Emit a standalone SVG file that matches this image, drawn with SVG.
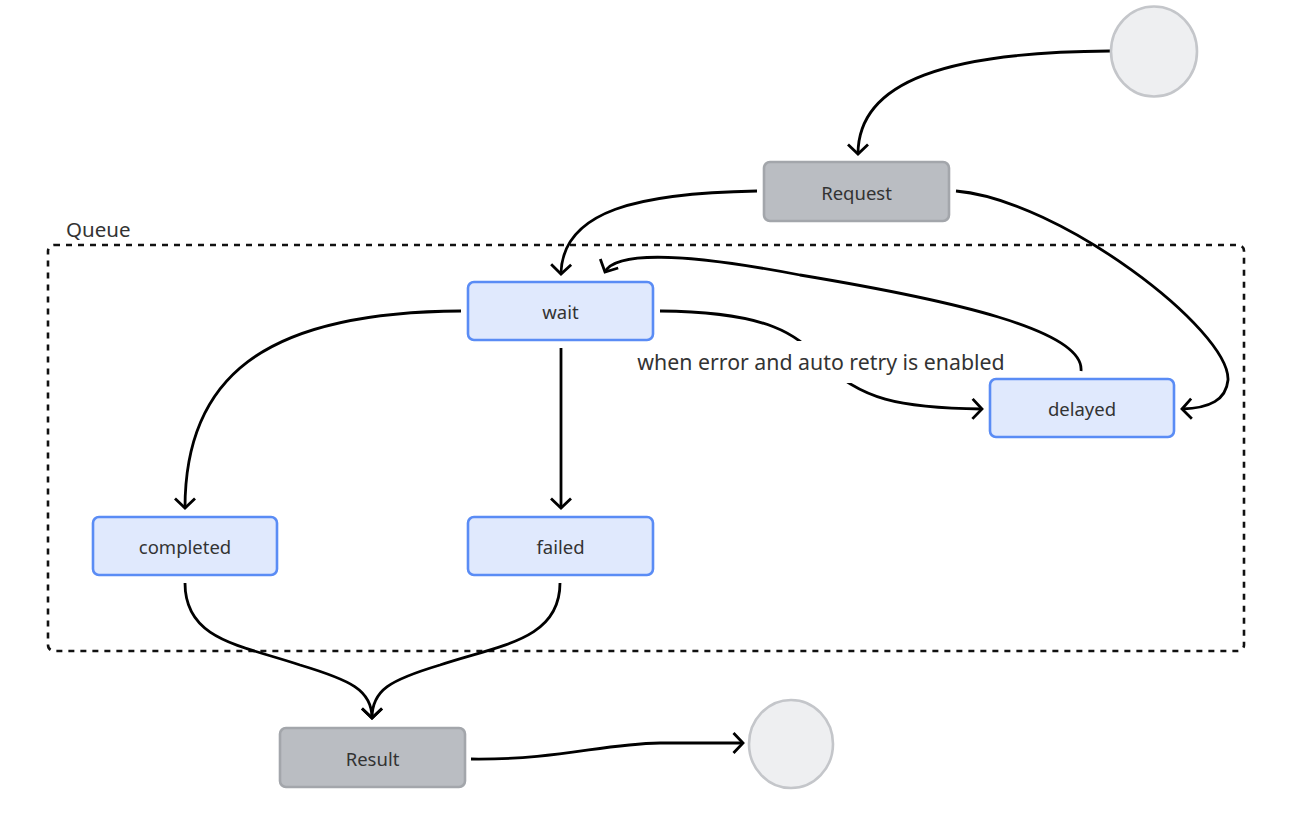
<svg xmlns="http://www.w3.org/2000/svg" width="1316" height="814" viewBox="0 0 1316 814">
<style>
.lbl{font-family:"Noto Sans","Open Sans",sans-serif;font-size:18.5px;fill:#333;text-anchor:middle;dominant-baseline:central}
.blue{fill:#e0e9fd;stroke:#5a8cf5;stroke-width:2.6}
.grey{fill:#babdc2;stroke:#a3a6ab;stroke-width:2.6}
.term{fill:#eeeff1;stroke:#c4c6ca;stroke-width:2.6}
.edge{fill:none;stroke:#000;stroke-width:2.8;marker-end:url(#arr)}
</style>
<defs>
<marker id="arr" markerUnits="userSpaceOnUse" markerWidth="26" markerHeight="26" refX="13" refY="13" orient="auto" viewBox="0 0 26 26">
<path d="M3.5,3 L13,13 L3.5,23" fill="none" stroke="#000" stroke-width="2.8"/>
</marker>
</defs>
<g id="queue">
<rect x="48" y="245" width="1196" height="406" rx="6" fill="none" stroke="#111" stroke-width="2.6" stroke-dasharray="6,6"/>
<text x="66" y="229" font-family="Noto Sans, sans-serif" font-size="20.5" fill="#333" dominant-baseline="central">Queue</text>
</g>
<g id="connectors">
<path class="edge" d="M1110,51 C950,52 858,80 858,154"/>
<path class="edge" d="M757,191 C640,193 562,210 561,274"/>
<path class="edge" d="M956,191 C1060,200 1230,330 1228,380 C1226,400 1210,408 1182,409"/>
<path class="edge" d="M461,311 C260,312 185,380 185,508"/>
<path class="edge" d="M561,348 L561,508"/>
<path class="edge" d="M660,311 C780,312 800,340 820,360 C860,400 900,408 982,409"/>
<path class="edge" d="M1081,371 C1085,330 950,300 800,275 C680,252 615,252 605,272"/>
<path class="edge" d="M185,583 C185,640 240,645 300,665 C350,680 372,690 372,718"/>
<path class="edge" d="M560,583 C560,640 500,645 440,665 C390,680 372,690 372,718"/>
<path class="edge" d="M471,759 C560,760 600,744 660,743 L743,743"/>
<rect x="630" y="341" width="382" height="42" fill="#fff"/>
<text x="821" y="361" font-family="Noto Sans, sans-serif" font-size="21.3" fill="#333" text-anchor="middle" dominant-baseline="central">when error and auto retry is enabled</text>
</g>
<g id="start"><ellipse class="term" cx="1154" cy="51.5" rx="43" ry="45"/></g>
<g id="end"><ellipse class="term" cx="791" cy="744" rx="42" ry="44"/></g>
<g id="request"><rect class="grey" x="764" y="162" width="185" height="59" rx="6"/><text class="lbl" x="856.5" y="192">Request</text></g>
<g id="wait"><rect class="blue" x="468" y="282" width="185" height="58" rx="6"/><text class="lbl" x="560.5" y="311">wait</text></g>
<g id="delayed"><rect class="blue" x="990" y="379" width="184" height="58" rx="6"/><text class="lbl" x="1082" y="408">delayed</text></g>
<g id="completed"><rect class="blue" x="93" y="517" width="184" height="58" rx="6"/><text class="lbl" x="185" y="546">completed</text></g>
<g id="failed"><rect class="blue" x="468" y="517" width="185" height="58" rx="6"/><text class="lbl" x="560.5" y="546">failed</text></g>
<g id="result"><rect class="grey" x="280" y="728" width="185" height="59" rx="6"/><text class="lbl" x="372.5" y="758">Result</text></g>
</svg>
